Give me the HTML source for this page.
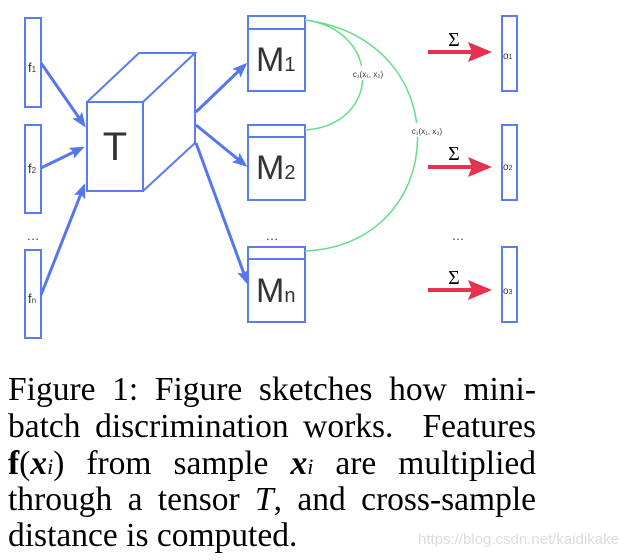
<!DOCTYPE html>
<html><head><style>
body{margin:0;width:639px;height:560px;background:#fff;position:relative;overflow:hidden}
.l{position:absolute;left:8px;width:528px;font-family:"Liberation Serif",serif;font-size:33.5px;line-height:36px;text-align:justify;text-align-last:justify;white-space:nowrap;color:#000}
.s{font-family:"Liberation Sans",sans-serif;fill:#333}
</style></head><body>
<svg width="639" height="350" style="position:absolute;left:0;top:0">
<defs>
<marker id="a" markerWidth="5" markerHeight="4" refX="4" refY="2" orient="auto" markerUnits="strokeWidth"><path d="M0,0 L5,2 L0,4 L1,2 z" fill="#5577ee"/></marker>
<marker id="r" markerWidth="6" markerHeight="5" refX="5" refY="2.5" orient="auto" markerUnits="strokeWidth"><path d="M0,0 L6,2.5 L0,5 L1,2.5 z" fill="#e8304f"/></marker>
</defs>
<g fill="none" stroke="#5b7bf0" stroke-width="2">
<rect x="25" y="18" width="16" height="89"/>
<rect x="25" y="125" width="16" height="88"/>
<rect x="25" y="250" width="16" height="88"/>
<rect x="87" y="102" width="56" height="89"/>
<path d="M87,102 L139,53 L195,53 L143,102 M195,53 L195,143 L143,191"/>
<rect x="248" y="16" width="57" height="75"/><line x1="248" y1="29" x2="305" y2="29"/>
<rect x="248" y="125" width="57" height="75"/><line x1="248" y1="137" x2="305" y2="137"/>
<rect x="248" y="247" width="57" height="75"/><line x1="248" y1="259" x2="305" y2="259"/>
<rect x="502" y="16" width="15" height="75"/>
<rect x="502" y="125" width="15" height="75"/>
<rect x="502" y="247" width="15" height="75"/>
</g>
<g stroke="#5577ee" stroke-width="3" marker-end="url(#a)">
<line x1="41" y1="63" x2="84" y2="125"/>
<line x1="41" y1="168" x2="82" y2="148"/>
<line x1="41" y1="295" x2="84" y2="186"/>
<line x1="196" y1="112" x2="245" y2="65"/>
<line x1="196" y1="125" x2="245" y2="165"/>
<line x1="196" y1="143" x2="247" y2="282"/>
</g>
<g stroke="#e8304f" stroke-width="4" marker-end="url(#r)">
<line x1="428" y1="52" x2="488" y2="52"/>
<line x1="428" y1="167" x2="488" y2="167"/>
<line x1="428" y1="290" x2="488" y2="290"/>
</g>
<g fill="none" stroke="#66dd88" stroke-width="1.5">
<path d="M305,20 C382,30 382,125 305,130"/>
<path d="M305,20 C460,40 450,245 305,251"/>
</g>
<rect x="350" y="66" width="36" height="14" fill="#fff"/>
<rect x="407" y="123" width="40" height="14" fill="#fff"/>
<text x="368" y="77" font-size="8" text-anchor="middle" class="s">c₁(x₁, x₂)</text>
<text x="427" y="134" font-size="8" text-anchor="middle" class="s">c₁(x₁, x₃)</text>
<text x="28" y="72" font-size="13" class="s">f<tspan font-size="8">1</tspan></text>
<text x="28" y="173" font-size="13" class="s">f<tspan font-size="8">2</tspan></text>
<text x="28" y="303" font-size="13" class="s">f<tspan font-size="8">n</tspan></text>
<text x="33" y="240" font-size="13" text-anchor="middle" class="s">…</text>
<text x="272" y="240" font-size="13" text-anchor="middle" class="s">…</text>
<text x="458" y="240" font-size="13" text-anchor="middle" class="s">…</text>
<text x="115" y="160" font-size="40" text-anchor="middle" class="s">T</text>
<text x="256" y="71" font-size="34" class="s">M<tspan font-size="20">1</tspan></text>
<text x="256" y="179" font-size="34" class="s">M<tspan font-size="20">2</tspan></text>
<text x="256" y="302" font-size="34" class="s">M<tspan font-size="20">n</tspan></text>
<text x="503" y="59" font-size="10" class="s">o<tspan font-size="7">1</tspan></text>
<text x="503" y="170" font-size="10" class="s">o<tspan font-size="7">2</tspan></text>
<text x="503" y="294" font-size="10" class="s">o<tspan font-size="7">3</tspan></text>
<g font-family="Liberation Serif,serif" font-size="20" fill="#000" text-anchor="middle">
<text x="454" y="46">Σ</text><text x="454" y="160">Σ</text><text x="454" y="284">Σ</text>
</g>
</svg>
<div class="l" style="top:372px">Figure 1: Figure sketches how mini-</div>
<div class="l" style="top:409px">batch discrimination works. &nbsp;Features</div>
<div class="l" style="top:446px"><b>f</b>(<b><i>x</i></b><i style="font-size:22px">i</i>) from sample <b><i>x</i></b><i style="font-size:22px">i</i> are multiplied</div>
<div class="l" style="top:482px">through a tensor <i>T</i>, and cross-sample</div>
<div class="l" style="top:518px;text-align-last:left">distance is computed.</div>
<div style="position:absolute;left:418px;top:531px;font-family:'Liberation Sans',sans-serif;font-size:15px;color:#dcdcdc">https://blog.csdn.net/kaidikake</div>
</body></html>
